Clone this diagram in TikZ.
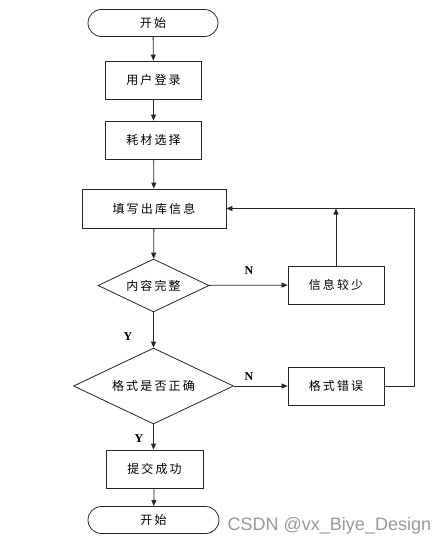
\documentclass[tikz,border=0pt]{standalone}
\usepackage{fontspec}
\setmainfont{Liberation Serif}
\newfontfamily\cjk[LetterSpace=18]{Noto Sans CJK SC}
\newfontfamily\wmfont{Liberation Sans}
\usetikzlibrary{arrows.meta,shapes.geometric}
\begin{document}
\begin{tikzpicture}[x=1pt,y=-1pt,
  line width=0.8pt,
  every node/.style={font=\cjk\fontsize{12}{14}\selectfont, text=black},
  box/.style={draw=black!85, rectangle, minimum width=96pt, minimum height=38pt, inner sep=0pt},
  term/.style={draw=black!85, rectangle, rounded corners=13.5pt, minimum width=130pt, minimum height=27pt, inner sep=0pt},
  dec/.style={draw=black!85, diamond, shape aspect=2.1, inner sep=0pt},
  arr/.style={draw=black!85, -{Triangle[length=6pt,width=5pt]}},
  lab/.style={font=\bfseries\fontsize{12}{14}\selectfont}
]
\useasboundingbox (0,0) rectangle (446,547);
\node[term] (start) at (153,23) {开始};
\node[box] (login) at (153.5,80) {用户登录};
\node[box] (choose) at (153.5,140) {耗材选择};
\node[box, minimum width=144pt, minimum height=39pt] (fill) at (154,208.5) {填写出库信息};
\node[dec, minimum width=111pt, minimum height=53pt] (d1) at (153.5,285.5) {内容完整};
\node[box] (less) at (336,285) {信息较少};
\node[dec, minimum width=160pt, minimum height=76pt] (d2) at (153.5,386) {格式是否正确};
\node[box] (err) at (336,386) {格式错误};
\node[box, minimum width=97pt] (ok) at (154.5,469) {提交成功};
\node[term, minimum width=131pt] (end) at (153.5,520) {开始};
\coordinate (r1) at (414,386);
\coordinate (r2) at (414,208.5);

\draw[arr] (start) -- (login);
\draw[arr] (login) -- (choose);
\draw[arr] (choose) -- (fill);
\draw[arr] (fill) -- (d1);
\draw[arr] (d1) -- (less);
\draw[arr] (less.north) -- (less.north |- fill.east);
\draw[arr] (d1) -- (d2);
\draw[arr] (d2) -- (err);
\draw[arr] (err.east) -- (r1) -- (r2) -- (fill.east);
\draw[arr] (d2.south) -- (d2.south |- ok.north);
\draw[arr] (ok) -- (end);

\node[lab] (n1) at (249,271) {N};
\node[lab] (y1) at (128,337) {Y};
\node[lab] (n2) at (249,377) {N};
\node[lab] (y2) at (139,439) {Y};
\node[font=\wmfont\fontsize{18}{20}\selectfont, text=black!40, anchor=west] (wm) at (224,526) {CSDN @vx\_Biye\_Design};
\end{tikzpicture}
\end{document}
